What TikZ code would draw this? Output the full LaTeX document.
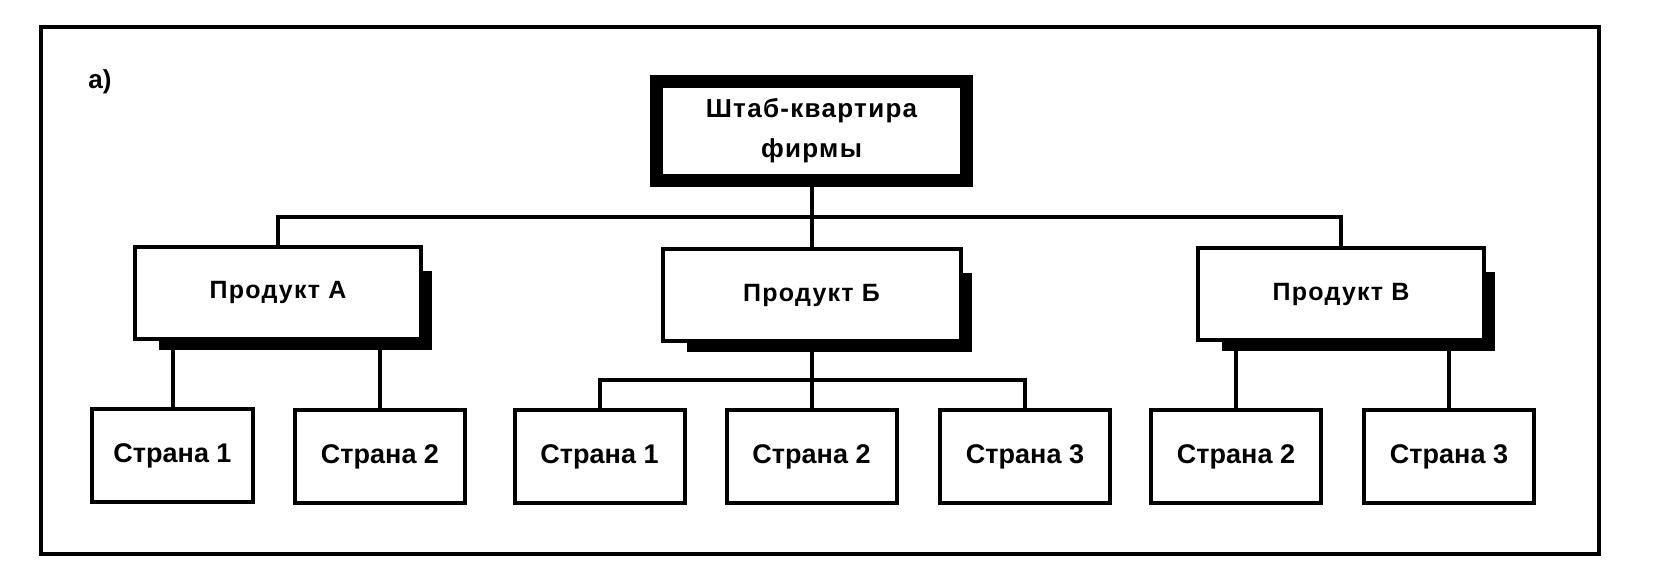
\documentclass[tikz,border=0pt]{standalone}
\usepackage{fontspec}
\setmainfont{Liberation Sans}
\newfontfamily\spacedfont{Liberation Sans}[LetterSpace=5]
\usetikzlibrary{calc, backgrounds}
\tikzset{
    hqbox/.style={draw, line width=6.5pt, fill=white, minimum width=155pt, minimum height=49.5pt, align=center, font=\spacedfont\bfseries\fontsize{13}{20}\selectfont},
    prodbox/.style={draw, line width=2pt, fill=white, minimum height=46pt, font=\spacedfont\bfseries\fontsize{12.5}{15}\selectfont},
    countrybox/.style={draw, line width=2pt, fill=white, minimum width=85pt, minimum height=46.5pt, font=\bfseries\fontsize{13.5}{16}\selectfont},
    link/.style={line width=2pt}
}
\begin{document}
\begin{tikzpicture}[x=0.5pt, y=-0.5pt]
    \useasboundingbox (0,0) rectangle (1672,576);
    % Frame
    \draw[line width=2.4pt] (41,27) rectangle (1599,554);
    \node[font=\bfseries\fontsize{13}{15}\selectfont] (lbl) at (100,82) {а)};

    % Headquarters
    \node[hqbox] (hq) at (811.5,131) {Штаб-квартира\\фирмы};

    % Products
    \node[prodbox, minimum width=143pt] (pa) at (278,293) {Продукт А};
    \node[prodbox, minimum width=149pt] (pb) at (811.5,295.5) {Продукт Б};
    \node[prodbox, minimum width=143pt] (pv) at (1341,294.5) {Продукт В};

    % Countries
    \node[countrybox, minimum width=80.5pt] (ca1) at (172.5,456) {Страна 1};
    \node[countrybox] (ca2) at (380,457) {Страна 2};
    \foreach \n/\x/\t in {cb1/599.5/1, cb2/811.5/2, cb3/1025/3, cv2/1236/2, cv3/1449/3}
        \node[countrybox] (\n) at (\x,457) {Страна \t};

    % Shadows
    \begin{scope}[on background layer]
        \foreach \p in {pa,pb,pv}
            \fill ($(\p.north west)+(26,26)$) rectangle ($(\p.south east)+(9,9)$);
    \end{scope}

    % Links
    \draw[link] (hq.south) -- (pb.north);
    \draw[link] (pa.north) |- ($(hq.south)!0.5!(pb.north)$) -| (pv.north);
    \draw[link] (ca1.north |- pa.south) -- (ca1.north);
    \draw[link] (ca2.north |- pa.south) -- (ca2.north);
    \draw[link] (pb.south) -- (cb2.north);
    \draw[link] (cb1.north) -- ++(0,-28) -| (cb3.north);
    \draw[link] (cv2.north |- pv.south) -- (cv2.north);
    \draw[link] (cv3.north |- pv.south) -- (cv3.north);
\end{tikzpicture}
\end{document}
